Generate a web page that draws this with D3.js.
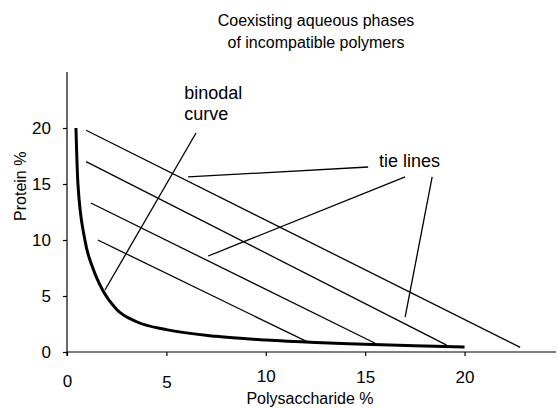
<!DOCTYPE html>
<html>
<head>
<meta charset="utf-8">
<script src="https://cdn.jsdelivr.net/npm/d3@7"></script>
<style>
  body { margin: 0; background: #fff; }
  svg { display: block; font-family: "Liberation Sans", Arial, sans-serif; }
  .axis path, .axis line { stroke: #000; stroke-width: 1.2; }
  .axis text { font-size: 17px; fill: #000; }
</style>
</head>
<body>
<script>
// binodal curve (polysaccharide %, protein %)
const binodalX = [0.45, 0.55, 0.9, 1.3, 1.8, 2.5, 3.5, 5, 7.5, 10, 12.5, 15, 17.5, 20];
const binodalY = [20, 15, 10, 7.5, 5.5, 3.8, 2.7, 2.0, 1.4, 1.07, 0.85, 0.7, 0.55, 0.45];

// tie lines
const tieStartX = [0.96, 0.96, 1.2, 1.55];
const tieStartY = [19.8, 17.0, 13.3, 10.0];
const tieEndX = [22.8, 19.1, 15.5, 12.1];
const tieEndY = [0.42, 0.62, 0.78, 0.9];

// pointer lines from the labels
const pointerX1 = [6.49, 6.09, 7.10, 17.01];
const pointerY1 = [19.55, 15.63, 8.57, 3.12];
const pointerX2 = [1.91, 15.15, 17.01, 18.37];
const pointerY2 = [5.54, 16.52, 15.63, 15.63];

const xTicks = [0, 5, 10, 15, 20];
const yTicks = [0, 5, 10, 15, 20];

const width = 558;
const height = 408;

// the x tick labels sit a little unevenly in the original
const xLabelShift = [3, 4, -2, -1, -1];

const x = d3.scaleLinear().domain([0, 24.6]).range([67, 556]);
const y = d3.scaleLinear().domain([0, 25]).range([352, 72]);

const svg = d3.select("body").append("svg")
  .attr("width", width)
  .attr("height", height);

// title
svg.append("text")
  .attr("x", 316).attr("y", 26)
  .attr("text-anchor", "middle")
  .style("font-size", "16px")
  .selectAll("tspan")
  .data(["Coexisting aqueous phases", "of incompatible polymers"])
  .enter()
  .append("tspan")
  .attr("x", 316)
  .attr("dy", (d, i) => (i ? 22 : 0))
  .text((d) => d);

// axes
svg.append("g")
  .attr("class", "axis")
  .attr("transform", `translate(0,${y(0)})`)
  .call(d3.axisBottom(x).tickValues(xTicks).tickSize(4).tickSizeOuter(0).tickPadding(16))
  .call((g) => g.select(".domain").attr("d", `M${x(0)},0H${x(24.6)}`))
  .call((g) => g.selectAll(".tick text").attr("dy", (d, i) => 0.71 * 17 + xLabelShift[i]));

svg.append("g")
  .attr("class", "axis")
  .attr("transform", `translate(${x(0)},0)`)
  .call(d3.axisLeft(y).tickValues(yTicks).tickSize(4).tickSizeOuter(0).tickPadding(12))
  .call((g) => g.select(".domain").attr("d", `M0,${y(0) + 4}V${y(25)}`));

// axis titles
svg.append("text")
  .attr("x", 310).attr("y", 404)
  .attr("text-anchor", "middle")
  .style("font-size", "16px")
  .text("Polysaccharide  %");

svg.append("text")
  .attr("transform", `translate(26,${y(14.8)}) rotate(-90)`)
  .attr("text-anchor", "middle")
  .style("font-size", "16px")
  .text("Protein %");

// tie lines
svg.append("g")
  .selectAll("line")
  .data(tieStartX)
  .enter()
  .append("line")
  .attr("x1", (d) => x(d))
  .attr("y1", (d, i) => y(tieStartY[i]))
  .attr("x2", (d, i) => x(tieEndX[i]))
  .attr("y2", (d, i) => y(tieEndY[i]))
  .attr("stroke", "#000")
  .attr("stroke-width", 1.3);

// binodal curve
const line = d3.line()
  .x((d, i) => x(binodalX[i]))
  .y((d) => y(d))
  .curve(d3.curveMonotoneX);

svg.append("path")
  .attr("d", line(binodalY))
  .attr("fill", "none")
  .attr("stroke", "#000")
  .attr("stroke-width", 3);

// label pointers
svg.append("g")
  .selectAll("line")
  .data(pointerX1)
  .enter()
  .append("line")
  .attr("x1", (d) => x(d))
  .attr("y1", (d, i) => y(pointerY1[i]))
  .attr("x2", (d, i) => x(pointerX2[i]))
  .attr("y2", (d, i) => y(pointerY2[i]))
  .attr("stroke", "#000")
  .attr("stroke-width", 1.3);

// labels
svg.append("text")
  .attr("x", x(5.9)).attr("y", y(22.6))
  .style("font-size", "18px")
  .selectAll("tspan")
  .data(["binodal", "curve"])
  .enter()
  .append("tspan")
  .attr("x", x(5.9))
  .attr("dy", (d, i) => (i ? 21 : 0))
  .text((d) => d);

svg.append("text")
  .attr("x", x(15.7)).attr("y", y(16.5))
  .style("font-size", "18px")
  .text("tie lines");
</script>
</body>
</html>
